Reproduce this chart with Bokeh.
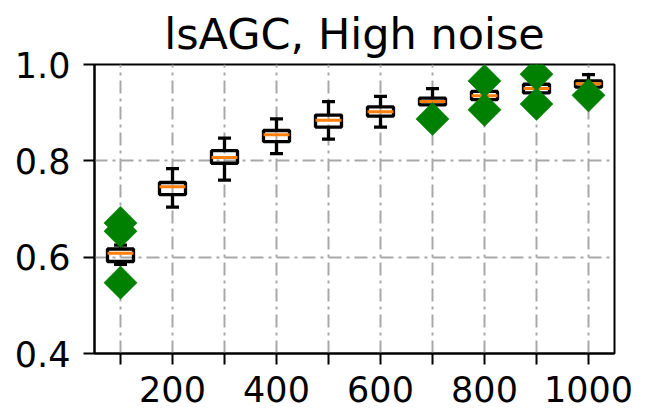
import numpy as np
from bokeh.plotting import figure
from bokeh.models import FixedTicker, NumeralTickFormatter
from bokeh.embed import file_html
from bokeh.resources import INLINE

# ---- data ----
positions = [100, 200, 300, 400, 500, 600, 700, 800, 900, 1000]
whisker_lo = [0.585, 0.704, 0.760, 0.815, 0.845, 0.870, 0.905, 0.915, 0.930, 0.945]
q1 = [0.591, 0.730, 0.795, 0.840, 0.870, 0.893, 0.916, 0.927, 0.941, 0.953]
median = [0.608, 0.746, 0.807, 0.854, 0.884, 0.902, 0.923, 0.935, 0.950, 0.960]
q3 = [0.617, 0.755, 0.821, 0.863, 0.895, 0.912, 0.930, 0.944, 0.959, 0.966]
whisker_hi = [0.625, 0.784, 0.847, 0.887, 0.923, 0.934, 0.950, 0.955, 0.968, 0.979]
flier_x = [100, 100, 100, 700, 800, 800, 900, 900, 1000]
flier_y = [0.671, 0.654, 0.547, 0.887, 0.966, 0.906, 0.980, 0.918, 0.936]
x_ticks = [100, 200, 300, 400, 500, 600, 700, 800, 900, 1000]
x_tick_labels = ["", "200", "", "400", "", "600", "", "800", "", "1000"]
y_ticks = [0.4, 0.6, 0.8, 1.0]
title_text = "lsAGC, High noise"

box_width = 50
cap_width = 25
FONT = "DejaVu Sans"

p = figure(width=638, height=408, x_range=(50, 1050), y_range=(0.4, 1.0),
           output_backend="svg", toolbar_location=None,
           min_border_left=94, min_border_right=24, min_border_top=64,
           min_border_bottom=55)

p.title.text = title_text
p.title.text_font = FONT
p.title.text_font_size = "43px"
p.title.text_font_style = "normal"
p.title.align = "center"
p.title.text_color = "black"
p.title.standoff = 11

p.outline_line_color = "black"
p.outline_line_width = 2
p.outline_line_alpha = 1.0

for ax in (p.xaxis[0], p.yaxis[0]):
    ax.axis_line_width = 2
    ax.axis_line_color = "black"
    ax.major_tick_line_width = 2
    ax.major_tick_line_color = "black"
    ax.major_tick_out = 11
    ax.major_tick_in = 0
    ax.minor_tick_line_color = None
    ax.major_label_text_font = FONT
    ax.major_label_text_font_size = "35px"
    ax.major_label_text_color = "black"

p.xaxis.ticker = FixedTicker(ticks=x_ticks)
p.xaxis.major_label_overrides = {t: l for t, l in zip(x_ticks, x_tick_labels)}
p.xaxis.major_label_standoff = 11
p.yaxis.ticker = FixedTicker(ticks=y_ticks)
p.yaxis.formatter = NumeralTickFormatter(format="0.0")
p.yaxis.major_label_standoff = 13

p.xgrid.ticker = FixedTicker(ticks=x_ticks)
p.ygrid.ticker = FixedTicker(ticks=y_ticks)
for g in (p.xgrid[0], p.ygrid[0]):
    g.grid_line_color = "#a8a8a8"
    g.grid_line_width = 2
    g.grid_line_dash = "13 5 3 5"

pos = np.array(positions, dtype=float)
LW = 3.3
# whiskers
p.segment(x0=pos, y0=q3, x1=pos, y1=whisker_hi, line_color="black", line_width=LW)
p.segment(x0=pos, y0=q1, x1=pos, y1=whisker_lo, line_color="black", line_width=LW)
# caps
p.segment(x0=pos - cap_width / 2, y0=whisker_hi, x1=pos + cap_width / 2, y1=whisker_hi,
          line_color="black", line_width=LW)
p.segment(x0=pos - cap_width / 2, y0=whisker_lo, x1=pos + cap_width / 2, y1=whisker_lo,
          line_color="black", line_width=LW)
# boxes (unfilled, as in matplotlib)
p.vbar(x=pos, width=box_width, top=q3, bottom=q1, fill_color=None,
       line_color="black", line_width=LW)
# medians
p.segment(x0=pos - box_width / 2, y0=median, x1=pos + box_width / 2, y1=median,
          line_color="#ff7f0e", line_width=3)
# fliers
p.scatter(x=flier_x, y=flier_y, marker="square", angle=np.pi / 4, size=23.5,
          fill_color="#008000", line_color="#008000", line_width=0.5)

open("out.html", "w").write(file_html(p, INLINE))
